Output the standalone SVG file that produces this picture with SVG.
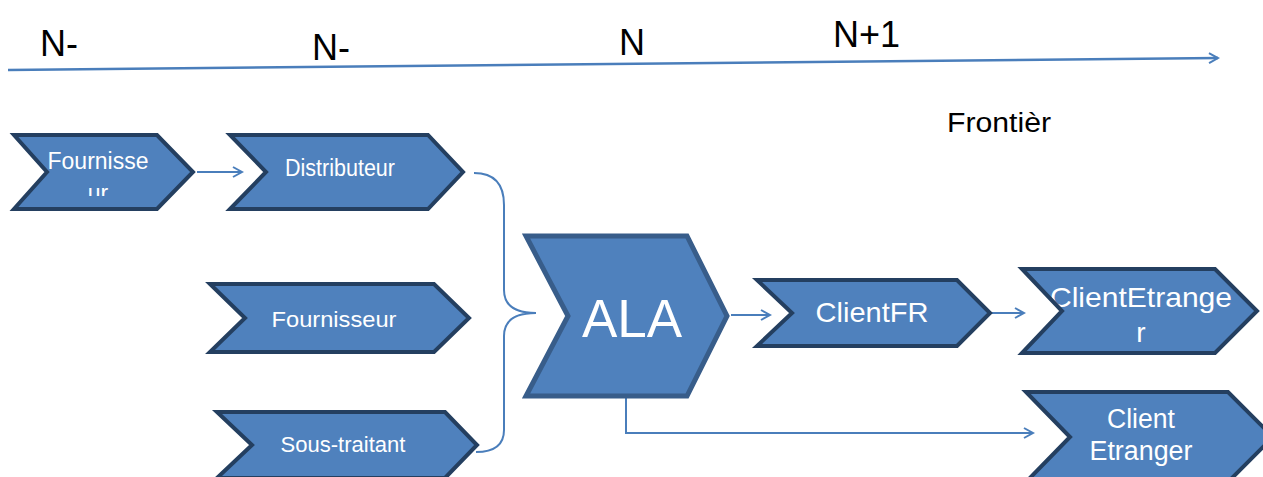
<svg xmlns="http://www.w3.org/2000/svg" width="1263" height="477" viewBox="0 0 1263 477">
<style>
.fill{fill:#4f81bd;stroke:none}
.out{fill:none;stroke:#243f60;stroke-width:4;stroke-linejoin:miter}
.t{font-family:"Liberation Sans",Arial,sans-serif;fill:#fff;text-anchor:middle}
.lbl{font-family:"Liberation Sans",Arial,sans-serif;fill:#000}
.c{fill:none;stroke:#4a7ebb;stroke-width:2}
</style>
<defs>
<marker id="ah" markerWidth="12" markerHeight="12" refX="10" refY="6" orient="auto" markerUnits="userSpaceOnUse">
<path d="M1,1 L10,6 L1,11" fill="none" stroke="#4a7ebb" stroke-width="2"/>
</marker>
<clipPath id="clipF"><rect x="0" y="130" width="200" height="66"/></clipPath>
</defs>
<rect width="1263" height="477" fill="#fff"/>
<g id="timeline">
<line x1="8" y1="70" x2="1218" y2="58" stroke="#4a7ebb" stroke-width="2.5" marker-end="url(#ah)"/>
<text class="lbl" x="40" y="56" font-size="36">N-</text>
<text class="lbl" x="312" y="60" font-size="36">N-</text>
<text class="lbl" x="619" y="55" font-size="36">N</text>
<text class="lbl" x="833" y="47" font-size="36">N+1</text>
<text class="lbl" x="947" y="132" font-size="27" textLength="104" lengthAdjust="spacingAndGlyphs">Frontièr</text>
</g>
<g id="connectors">
<line class="c" x1="197" y1="172" x2="242" y2="172" marker-end="url(#ah)"/>
<path class="c" d="M474,173 C495,173 504,185 504,205 L504,290 C504,305 515,313 536,313 C515,313 504,321 504,336 L504,430 C504,445 495,452 476,452"/>
<line class="c" x1="731" y1="315" x2="770" y2="315" marker-end="url(#ah)"/>
<line class="c" x1="992" y1="313" x2="1024" y2="313" marker-end="url(#ah)"/>
<path class="c" d="M626,398 L626,433 L1033,433" marker-end="url(#ah)"/>
</g>
<g id="fournisseur1">
<polygon class="fill" points="14,135 157,135 193,172 157,209 14,209 47,172"/>
<g clip-path="url(#clipF)">
<text class="t" x="98" y="169" font-size="23">Fournisse</text>
<text class="t" x="98" y="201" font-size="23">ur</text>
</g>
<polygon class="out" points="14,135 157,135 193,172 157,209 14,209 47,172"/>
</g>
<g id="distributeur">
<polygon class="fill" points="230,135 428,135 463,172 428,209 230,209 266,172"/>
<polygon class="out" points="230,135 428,135 463,172 428,209 230,209 266,172"/>
<text class="t" x="340" y="176" font-size="23" textLength="110" lengthAdjust="spacingAndGlyphs">Distributeur</text>
</g>
<g id="fournisseur2">
<polygon class="fill" points="210,284 434,284 469,318 434,352 210,352 245,318"/>
<polygon class="out" points="210,284 434,284 469,318 434,352 210,352 245,318"/>
<text class="t" x="334" y="327" font-size="22" textLength="125" lengthAdjust="spacingAndGlyphs">Fournisseur</text>
</g>
<g id="soustraitant">
<polygon class="fill" points="217,412 445,412 477,445 445,478 217,478 252,445"/>
<polygon class="out" points="217,412 445,412 477,445 445,478 217,478 252,445"/>
<text class="t" x="343" y="452" font-size="22" textLength="125" lengthAdjust="spacingAndGlyphs">Sous-traitant</text>
</g>
<g id="ala">
<polygon points="526,236 687,236 727,316 687,396 526,396 568,316" fill="#4f81bd" stroke="#385d8a" stroke-width="5"/>
<text class="t" x="632" y="337" font-size="53">ALA</text>
</g>
<g id="clientfr">
<polygon class="fill" points="757,280 957,280 990,313 957,346 757,346 792,313"/>
<polygon class="out" points="757,280 957,280 990,313 957,346 757,346 792,313"/>
<text class="t" x="872" y="322" font-size="28" textLength="113" lengthAdjust="spacingAndGlyphs">ClientFR</text>
</g>
<g id="clientetranger1">
<polygon class="fill" points="1022,269 1215,269 1257,311 1215,353 1022,353 1062,311"/>
<text class="t" x="1141" y="307" font-size="28" textLength="182" lengthAdjust="spacingAndGlyphs">ClientEtrange</text>
<text class="t" x="1141" y="342" font-size="28">r</text>
<polygon class="out" points="1022,269 1215,269 1257,311 1215,353 1022,353 1062,311"/>
</g>
<g id="clientetranger2">
<polygon class="fill" points="1026,392 1228,392 1273,437 1228,482 1026,482 1070,437"/>
<polygon class="out" points="1026,392 1228,392 1273,437 1228,482 1026,482 1070,437"/>
<text class="t" x="1141" y="428" font-size="27" textLength="68" lengthAdjust="spacingAndGlyphs">Client</text>
<text class="t" x="1141" y="460" font-size="27" textLength="103" lengthAdjust="spacingAndGlyphs">Etranger</text>
</g>
</svg>
